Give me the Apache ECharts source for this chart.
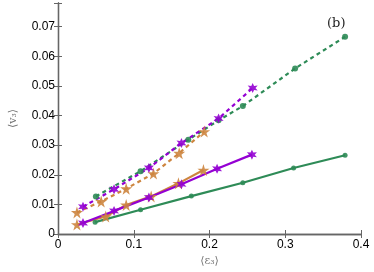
<!DOCTYPE html>
<html><head><meta charset="utf-8">
<script src="https://cdn.jsdelivr.net/npm/echarts@6/dist/echarts.min.js"></script>
<style>html,body{margin:0;padding:0;background:#fff}#c{width:374px;height:272px}</style>
</head><body><div id="c"></div>
<script>
var xTicks = [0, 0.1, 0.2, 0.3, 0.4];
var yTicks = [0, 0.01, 0.02, 0.03, 0.04, 0.05, 0.06, 0.07];

var greenSolidX = [0.049, 0.109, 0.176, 0.244, 0.311, 0.379];
var greenSolidY = [0.0040, 0.0082, 0.0128, 0.0173, 0.0223, 0.0266];
var greenDashX = [0.050, 0.109, 0.172, 0.212, 0.244, 0.313, 0.379];
var greenDashY = [0.0127, 0.0212, 0.0318, 0.0384, 0.0432, 0.0559, 0.0666];
var purpleSolidX = [0.033, 0.074, 0.120, 0.163, 0.210, 0.256];
var purpleSolidY = [0.0037, 0.0078, 0.0123, 0.0168, 0.0220, 0.0268];
var purpleDashX = [0.033, 0.074, 0.120, 0.163, 0.212, 0.257];
var purpleDashY = [0.0092, 0.0151, 0.0223, 0.0307, 0.0390, 0.0493];
var orangeSolidX = [0.025, 0.063, 0.090, 0.123, 0.159, 0.192];
var orangeSolidY = [0.0032, 0.0059, 0.0098, 0.0127, 0.0171, 0.0216];
var orangeDashX = [0.025, 0.057, 0.090, 0.126, 0.160, 0.193];
var orangeDashY = [0.0073, 0.0110, 0.0153, 0.0204, 0.0273, 0.0346];

function pairs(xs, ys){ return xs.map(function(x,i){ return [x, ys[i]]; }); }

var GREEN = '#2e8b57', PURPLE = '#9400d3', ORANGE = '#cd853f';
var star5 = 'path://M50,0 L61,35 L98,35 L68,57 L79,91 L50,70 L21,91 L32,57 L2,35 L39,35 Z';
var star6 = 'path://M50,0 L62,29 L93,25 L74,50 L93,75 L62,71 L50,100 L38,71 L7,75 L26,50 L7,25 L38,29 Z';

function ser(xs, ys, color, dashed, sym, size){
  return {
    type: 'line', data: pairs(xs, ys), symbol: sym, symbolSize: size,
    lineStyle: {color: color, width: 2.2, type: dashed ? [4, 3.5] : 'solid'},
    itemStyle: {color: color, opacity: 0.9}, animation: false, z: 3
  };
}

function near(list, v){ for (var i=0;i<list.length;i++){ if (Math.abs(list[i]-v) < 1e-9) return true; } return false; }

var font = 'Liberation Sans, Arial, sans-serif';
var chart = echarts.init(document.getElementById('c'));
chart.setOption({
  animation: false,
  grid: {left: 48, right: 13, top: 3, bottom: 35},
  xAxis: [{
    type: 'value', min: 0, max: 0.4, interval: 0.1,
    axisLine: {lineStyle: {color: '#666', width: 1.3}},
    axisTick: {inside: true, length: 4, lineStyle: {color: '#666'}},
    axisLabel: {color: '#000', fontSize: 12, fontFamily: font, margin: 5,
      formatter: function(v){ return near(xTicks, v) ? String(+v.toFixed(1)) : ''; }},
    splitLine: {show: false},
    name: '⟨ε₃⟩', nameLocation: 'middle', nameGap: 22,
    nameTextStyle: {color: '#777', fontSize: 11, fontFamily: 'DejaVu Serif, serif'}
  }, {
    type: 'value', min: 0, max: 0.4, interval: 0.1, position: 'top',
    axisLine: {show: true, lineStyle: {color: '#666', width: 1.3}},
    axisTick: {inside: true, length: 4, lineStyle: {color: '#666'}},
    axisLabel: {show: false}, splitLine: {show: false}
  }],
  yAxis: [{
    type: 'value', min: 0, max: 0.078, interval: 0.01,
    axisLine: {show: true, lineStyle: {color: '#666', width: 1.3}},
    axisTick: {inside: true, length: 4, lineStyle: {color: '#666'}},
    axisLabel: {color: '#000', fontSize: 12, fontFamily: font, margin: 3,
      formatter: function(v){ if (!near(yTicks, v)) return ''; return v === 0 ? '0' : v.toFixed(2); }},
    splitLine: {show: false},
    name: '⟨v₃⟩', nameLocation: 'middle', nameGap: 39,
    nameTextStyle: {color: '#777', fontSize: 11, fontFamily: 'DejaVu Serif, serif'}
  }, {
    type: 'value', min: 0, max: 0.078, interval: 0.01, position: 'right',
    axisLine: {show: true, lineStyle: {color: '#666', width: 1.3}},
    axisTick: {inside: true, length: 4, lineStyle: {color: '#666'}},
    axisLabel: {show: false}, splitLine: {show: false}
  }],
  series: [
    ser(greenSolidX, greenSolidY, GREEN, false, 'circle', 5),
    ser(greenDashX, greenDashY, GREEN, true, 'circle', 6),
    ser(orangeSolidX, orangeSolidY, ORANGE, false, star5, 12),
    ser(orangeDashX, orangeDashY, ORANGE, true, star5, 12),
    ser(purpleSolidX, purpleSolidY, PURPLE, false, star6, 10),
    ser(purpleDashX, purpleDashY, PURPLE, true, star6, 10)
  ],
  graphic: [{
    type: 'text', left: 327, top: 17,
    style: {text: '(b)', fontSize: 13, fontFamily: 'DejaVu Serif, serif', fill: '#222'}
  }]
});
</script></body></html>
